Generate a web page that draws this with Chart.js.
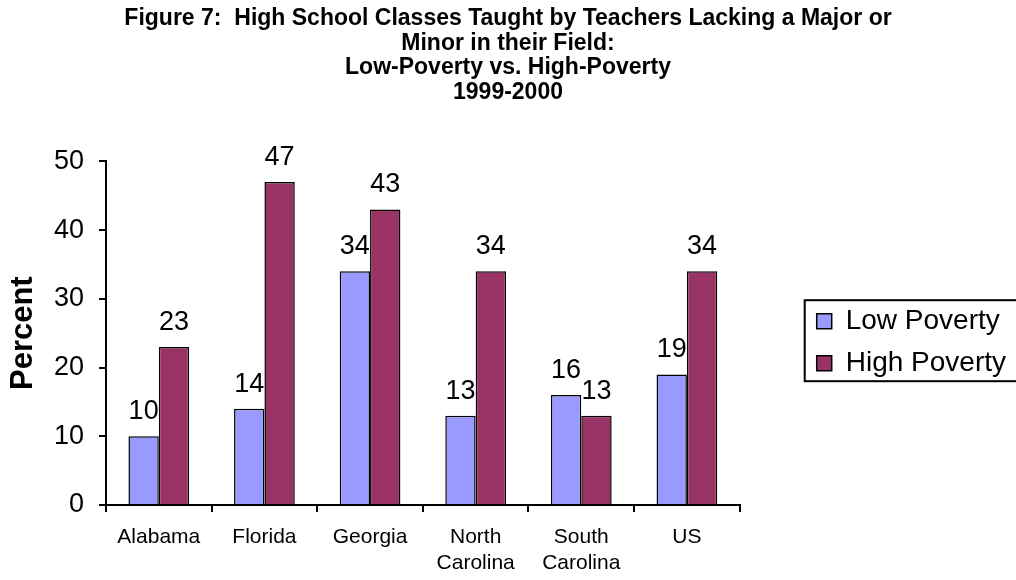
<!DOCTYPE html>
<html>
<head>
<meta charset="utf-8">
<script src="https://cdn.jsdelivr.net/npm/chart.js@4"></script>
<style>
  html, body { margin: 0; padding: 0; background: #fff; }
  #wrap { width: 1016px; height: 580px; }
</style>
</head>
<body>
<div id="wrap"><canvas id="grafico"></canvas></div>
<script>
// dados
const estados = [["Alabama"], ["Florida"], ["Georgia"], ["North", "Carolina"], ["South", "Carolina"], ["US"]];
const baixaPobreza = [10, 14, 34, 13, 16, 19];
const altaPobreza = [23, 47, 43, 34, 13, 34];
const tituloLinhas = [
  "Figure 7:  High School Classes Taught by Teachers Lacking a Major or",
  "Minor in their Field:",
  "Low-Poverty vs. High-Poverty",
  "1999-2000"
];

const fonte = "'Liberation Sans', Arial, sans-serif";

// rótulos de valor acima das barras
const rotulosValor = {
  id: "rotulosValor",
  afterDatasetsDraw(chart) {
    const ctx = chart.ctx;
    ctx.save();
    ctx.font = "27px " + fonte;
    ctx.fillStyle = "#000";
    ctx.textAlign = "center";
    ctx.textBaseline = "alphabetic";
    chart.data.datasets.forEach((ds, i) => {
      chart.getDatasetMeta(i).data.forEach((bar, j) => {
        ctx.fillText(ds.data[j], bar.x, bar.y - 17);
      });
    });
    ctx.restore();
  }
};

// moldura da legenda (só em volta dos itens)
const molduraLegenda = {
  id: "molduraLegenda",
  afterDraw(chart) {
    const lg = chart.legend;
    if (!lg || !lg.legendHitBoxes.length) return;
    const caixas = lg.legendHitBoxes;
    const x0 = Math.min(...caixas.map(c => c.left)) - 12;
    const y0 = caixas[0].top - 7;
    const y1 = caixas[caixas.length - 1].top + caixas[caixas.length - 1].height + 4;
    const ctx = chart.ctx;
    ctx.save();
    ctx.strokeStyle = "#000";
    ctx.lineWidth = 2;
    ctx.strokeRect(x0, y0, chart.width + 10 - x0, y1 - y0);
    ctx.restore();
  }
};

const ctx = document.getElementById("grafico").getContext("2d");
new Chart(ctx, {
  type: "bar",
  data: {
    labels: estados,
    datasets: [{
      label: "Low Poverty",
      data: baixaPobreza,
      backgroundColor: "#9999ff",
      borderColor: "#000",
      borderWidth: 1.5
    }, {
      label: "High Poverty",
      data: altaPobreza,
      backgroundColor: "#993366",
      borderColor: "#000",
      borderWidth: 1.5
    }]
  },
  options: {
    responsive: true,
    maintainAspectRatio: false,
    animation: false,
    layout: { padding: 0 },
    datasets: { bar: { categoryPercentage: 0.575, barPercentage: 1 } },
    plugins: {
      title: {
        display: true,
        text: tituloLinhas,
        color: "#000",
        font: { family: fonte, size: 23, weight: "bold", lineHeight: 1.08 },
        padding: { top: 6, bottom: 56 }
      },
      legend: {
        position: "right",
        align: "center",
        maxWidth: 400,
        // título vazio só para baixar os itens da legenda
        title: { display: true, text: " ", font: { size: 12, lineHeight: 1.2 }, padding: { top: 0, bottom: 90 } },
        labels: {
          color: "#000",
          font: { family: fonte, size: 28 },
          boxWidth: 15,
          boxHeight: 15,
          padding: 14
        }
      },
      tooltip: { enabled: false }
    },
    scales: {
      x: {
        grid: { display: true, drawOnChartArea: false, drawTicks: true, tickLength: 7, color: "#000", lineWidth: 2 },
        border: { display: true, color: "#000", width: 2 },
        ticks: { color: "#000", font: { family: fonte, size: 21, lineHeight: 1.26 }, padding: 12, maxRotation: 0, autoSkip: false },
        afterFit(escala) { escala.height = 75; }
      },
      y: {
        min: 0,
        max: 50,
        grid: { display: true, drawOnChartArea: false, drawTicks: true, tickLength: 7, color: "#000", lineWidth: 2 },
        border: { display: true, color: "#000", width: 2 },
        ticks: { stepSize: 10, color: "#000", font: { family: fonte, size: 27 }, padding: 15 },
        title: { display: true, text: "Percent", color: "#000", font: { family: fonte, size: 31, weight: "bold" }, padding: { top: 5, bottom: 0 } },
        afterFit(escala) { escala.width = 106; }
      },
      // eixo vazio só para abrir espaço entre o gráfico e a legenda
      espaco: {
        type: "linear",
        position: "right",
        display: true,
        grid: { display: false },
        border: { display: false },
        ticks: { display: false },
        afterFit(escala) { escala.width = 63; }
      }
    }
  },
  plugins: [rotulosValor, molduraLegenda]
});
</script>
</body>
</html>
